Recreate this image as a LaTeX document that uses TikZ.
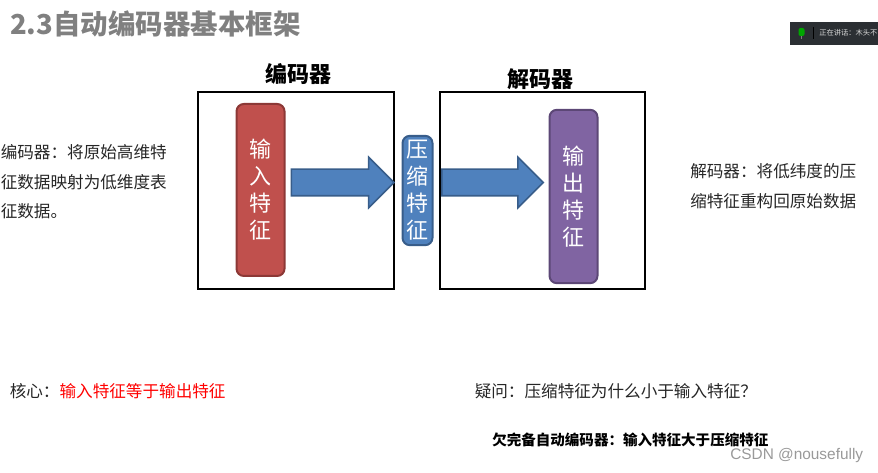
\documentclass[tikz,border=0pt]{standalone}
\usepackage{fontspec}
\usepackage{xcolor}
\usetikzlibrary{shapes.arrows}
\setmainfont{Noto Sans CJK SC}
\newfontfamily\latinfont{Liberation Sans}
\definecolor{inred}{HTML}{C0504D}
\definecolor{inredline}{HTML}{8C3836}
\definecolor{midblue}{HTML}{4F81BD}
\definecolor{midblueline}{HTML}{385D8A}
\definecolor{outpurple}{HTML}{8064A2}
\definecolor{outpurpleline}{HTML}{5C4776}
\definecolor{barblack}{HTML}{2B2F33}
\newcommand{\pxfont}[2]{\fontsize{#1}{#2}\selectfont}
\tikzset{
  featbox/.style={rounded corners=5.5pt,line width=1.5pt,inner sep=0pt,align=center,text=white,font=\pxfont{16.5}{20.25}},
  framebox/.style={draw=black,line width=1.8pt},
  blockarrow/.style={single arrow,anchor=tail,single arrow head extend=9pt,minimum width=36.75pt,inner xsep=0pt,inner ysep=9.375pt,
    fill=midblue,draw=midblueline,line width=1.2pt},
  bodytext/.style={anchor=west,inner sep=0pt,font=\pxfont{12.45}{22.2},align=left,text=black!85},
  heading/.style={inner sep=0pt,font=\pxfont{16.5}{20}\bfseries}
}
\begin{document}
\begin{tikzpicture}[x=0.75pt,y=-0.75pt]
\useasboundingbox (0,0) rectangle (878,473);
% title
\node[anchor=west,inner sep=0pt,text=black!50,font=\pxfont{20.6}{24}\bfseries] (title) at (10,24) {2.3自动编码器基本框架};
% speaker bar
\fill[barblack] (790,22) rectangle (878,45);
\fill[green!65!black,rounded corners=1.5pt] (798.5,28) rectangle (804.5,36);
\draw[gray,line width=0.5pt] (801.5,36) -- (801.5,39);
\draw[black,line width=0.6pt] (813,27) -- (813,39);
\node[anchor=west,inner sep=0pt,text=white!85!black,font=\pxfont{5.45}{7}] (speaker) at (819,33) {正在讲话：木头不};
% frames
\draw[framebox] (198,92) rectangle (394,289);
\draw[framebox] (440,92) rectangle (645,289);
\node[heading] (enchead) at (298,74) {编码器};
\node[heading] (dechead) at (540,79) {解码器};
% features
\node[featbox,fill=inred,draw=inredline,minimum width=36pt,minimum height=129pt] (infeat) at (260.5,190) {输\\入\\特\\征};
\node[blockarrow,minimum height=77pt] (encarrow) at (290.5,182.5) {};
\node[featbox,fill=midblue,draw=midblueline,minimum width=22.5pt,minimum height=82pt] (midfeat) at (417.5,190.5) {压\\缩\\特\\征};
\node[blockarrow,minimum height=76pt] (decarrow) at (441,182.5) {};
\node[featbox,fill=outpurple,draw=outpurpleline,minimum width=36pt,minimum height=130pt] (outfeat) at (573.5,196.5) {输\\出\\特\\征};
% notes
\node[bodytext] (encnote) at (0.5,182) {编码器：将原始高维特\\征数据映射为低维度表\\征数据。};
\node[bodytext] (decnote) at (690,186) {解码器：将低纬度的压\\缩特征重构回原始数据};
\node[bodytext] (corenote) at (9.5,391) {核心：\textcolor{red}{输入特征等于输出特征}};
\node[bodytext] (asknote) at (474.5,391) {疑问：压缩特征为什么小于输入特征？};
\node[anchor=west,inner sep=0pt,font=\pxfont{10.9}{14}\bfseries] (undernote) at (492,440) {欠完备自动编码器：输入特征大于压缩特征};
\node[anchor=west,inner sep=0pt,text=black!40,font=\latinfont\pxfont{11.55}{14}] (mark) at (730,456) {CSDN @nousefully};
\end{tikzpicture}
\end{document}
